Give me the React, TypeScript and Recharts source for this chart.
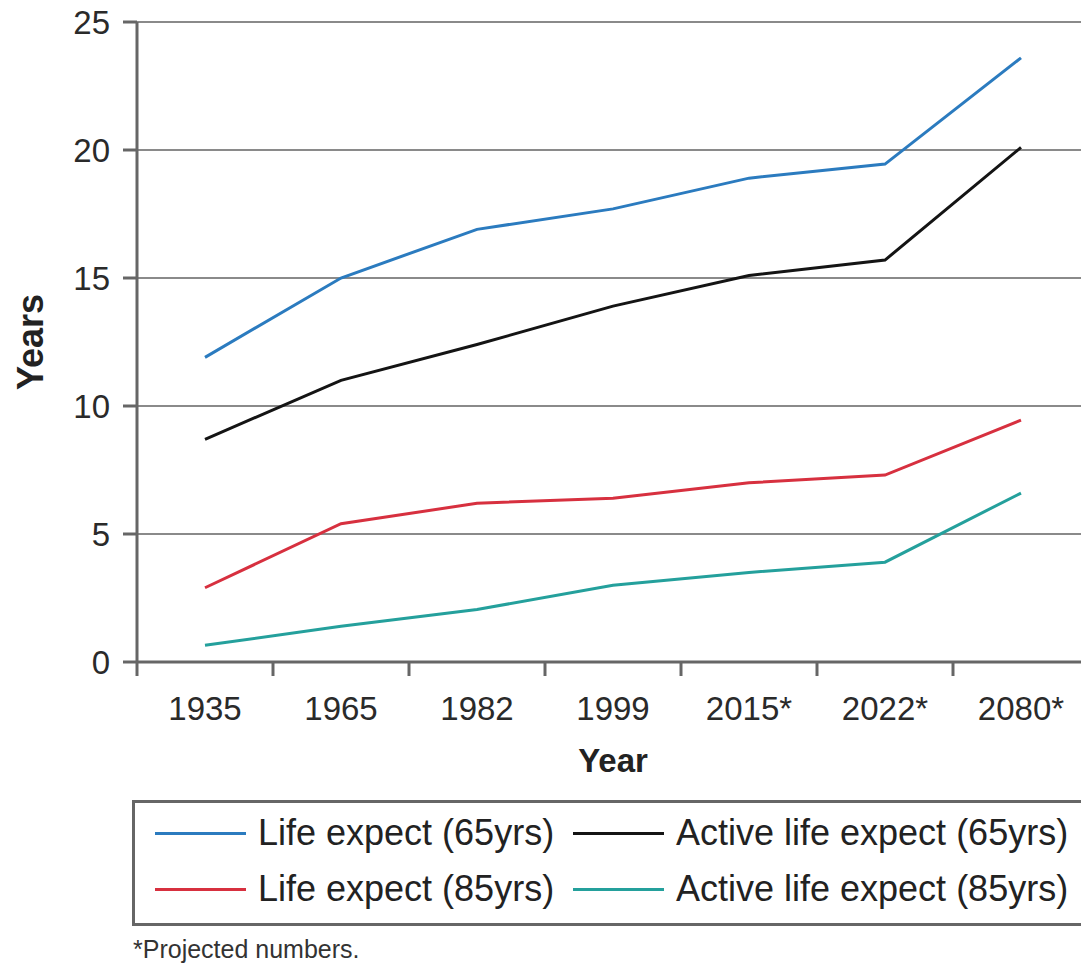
import { CartesianGrid, Legend, Line, LineChart, XAxis, YAxis } from 'recharts';

const years = ['1935', '1965', '1982', '1999', '2015*', '2022*', '2080*'];
const lifeExpect65 = [11.9, 15.0, 16.9, 17.7, 18.9, 19.45, 23.6];
const activeLifeExpect65 = [8.7, 11.0, 12.4, 13.9, 15.1, 15.7, 20.1];
const lifeExpect85 = [2.9, 5.4, 6.2, 6.4, 7.0, 7.3, 9.45];
const activeLifeExpect85 = [0.65, 1.4, 2.05, 3.0, 3.5, 3.9, 6.6];
const yTicks = [0, 5, 10, 15, 20, 25];

const series = [
  { key: 'life65', name: 'Life expect (65yrs)', color: '#2b7bbf' },
  { key: 'active65', name: 'Active life expect (65yrs)', color: '#141414' },
  { key: 'life85', name: 'Life expect (85yrs)', color: '#d7303f' },
  { key: 'active85', name: 'Active life expect (85yrs)', color: '#24a09c' },
];

const data = years.map((year, i) => ({
  year,
  life65: lifeExpect65[i],
  active65: activeLifeExpect65[i],
  life85: lifeExpect85[i],
  active85: activeLifeExpect85[i],
}));

const FONT = '"Liberation Sans", Arial, sans-serif';
const AXIS = '#666';
const CHART_W = 1100;
const MARGIN = { top: 22, right: 11, left: 0, bottom: 183 };
const Y_WIDTH = 137;
const BAND = (CHART_W - MARGIN.left - MARGIN.right - Y_WIDTH) / years.length;

function XTick(props: any) {
  const { x, y, payload } = props;
  const edge = x - BAND / 2;
  return (
    <g>
      <line x1={edge} y1={y} x2={edge} y2={y + 14} stroke={AXIS} strokeWidth={3} />
      <text x={x} y={y + 58} textAnchor="middle" fontSize={33} fill="#2a2a2a" fontFamily={FONT}>
        {payload.value}
      </text>
    </g>
  );
}

function LegendBox() {
  const rows = [
    [series[0], series[1]],
    [series[2], series[3]],
  ];
  return (
    <div
      style={{
        border: `3px solid ${AXIS}`,
        padding: '2px 0 6px 20px',
        fontFamily: FONT,
        fontSize: 36,
        color: '#222',
        background: '#fff',
        boxSizing: 'border-box',
      }}
    >
      {rows.map((row, r) => (
        <div key={r} style={{ display: 'flex', height: 56, alignItems: 'center' }}>
          {row.map((s, c) => (
            <div
              key={s.key}
              style={{ display: 'flex', alignItems: 'center', width: c === 0 ? 421 : 560, whiteSpace: 'nowrap' }}
            >
              <span style={{ display: 'inline-block', width: 91, height: 3, background: s.color, marginRight: 12 }} />
              <span>{s.name}</span>
            </div>
          ))}
        </div>
      ))}
    </div>
  );
}

export default function App() {
  return (
    <div
      style={{
        position: 'absolute',
        top: 0,
        left: 0,
        width: 1081,
        height: 965,
        overflow: 'hidden',
        background: '#fff',
        fontFamily: FONT,
      }}
    >
      <LineChart width={CHART_W} height={965} data={data} margin={MARGIN}>
        <CartesianGrid vertical={false} stroke="#8a8a8a" strokeWidth={2} />
        <XAxis
          dataKey="year"
          scale="band"
          height={120}
          tickSize={0}
          tickMargin={0}
          tickLine={false}
          tick={<XTick />}
          interval={0}
          axisLine={{ stroke: AXIS, strokeWidth: 3 }}
          label={{
            value: 'Year',
            position: 'insideBottom',
            offset: 10,
            style: { fontSize: 33, fontWeight: 'bold', fill: '#222', fontFamily: FONT },
          }}
        />
        <YAxis
          domain={[0, 25]}
          ticks={yTicks}
          width={Y_WIDTH}
          tickSize={14}
          tickMargin={13}
          tick={{ fontSize: 33, fill: '#2a2a2a', fontFamily: FONT }}
          tickLine={{ stroke: AXIS, strokeWidth: 3 }}
          axisLine={{ stroke: AXIS, strokeWidth: 3 }}
          label={{
            value: 'Years',
            angle: -90,
            position: 'insideLeft',
            offset: 30,
            style: { textAnchor: 'middle', fontSize: 36, fontWeight: 'bold', fill: '#222', fontFamily: FONT },
          }}
        />
        {series.map((s) => (
          <Line
            key={s.key}
            type="linear"
            dataKey={s.key}
            name={s.name}
            stroke={s.color}
            strokeWidth={3}
            dot={false}
            activeDot={false}
            isAnimationActive={false}
          />
        ))}
        <Legend
          layout="vertical"
          align="center"
          verticalAlign="middle"
          content={<LegendBox />}
          wrapperStyle={{ position: 'absolute', left: 132, top: 800, width: 1000, height: 126 }}
        />
      </LineChart>
      <div
        style={{
          position: 'absolute',
          left: 133,
          top: 937,
          fontSize: 25,
          lineHeight: '25px',
          color: '#333',
          fontFamily: FONT,
          whiteSpace: 'nowrap',
        }}
      >
        *Projected numbers.
      </div>
    </div>
  );
}
